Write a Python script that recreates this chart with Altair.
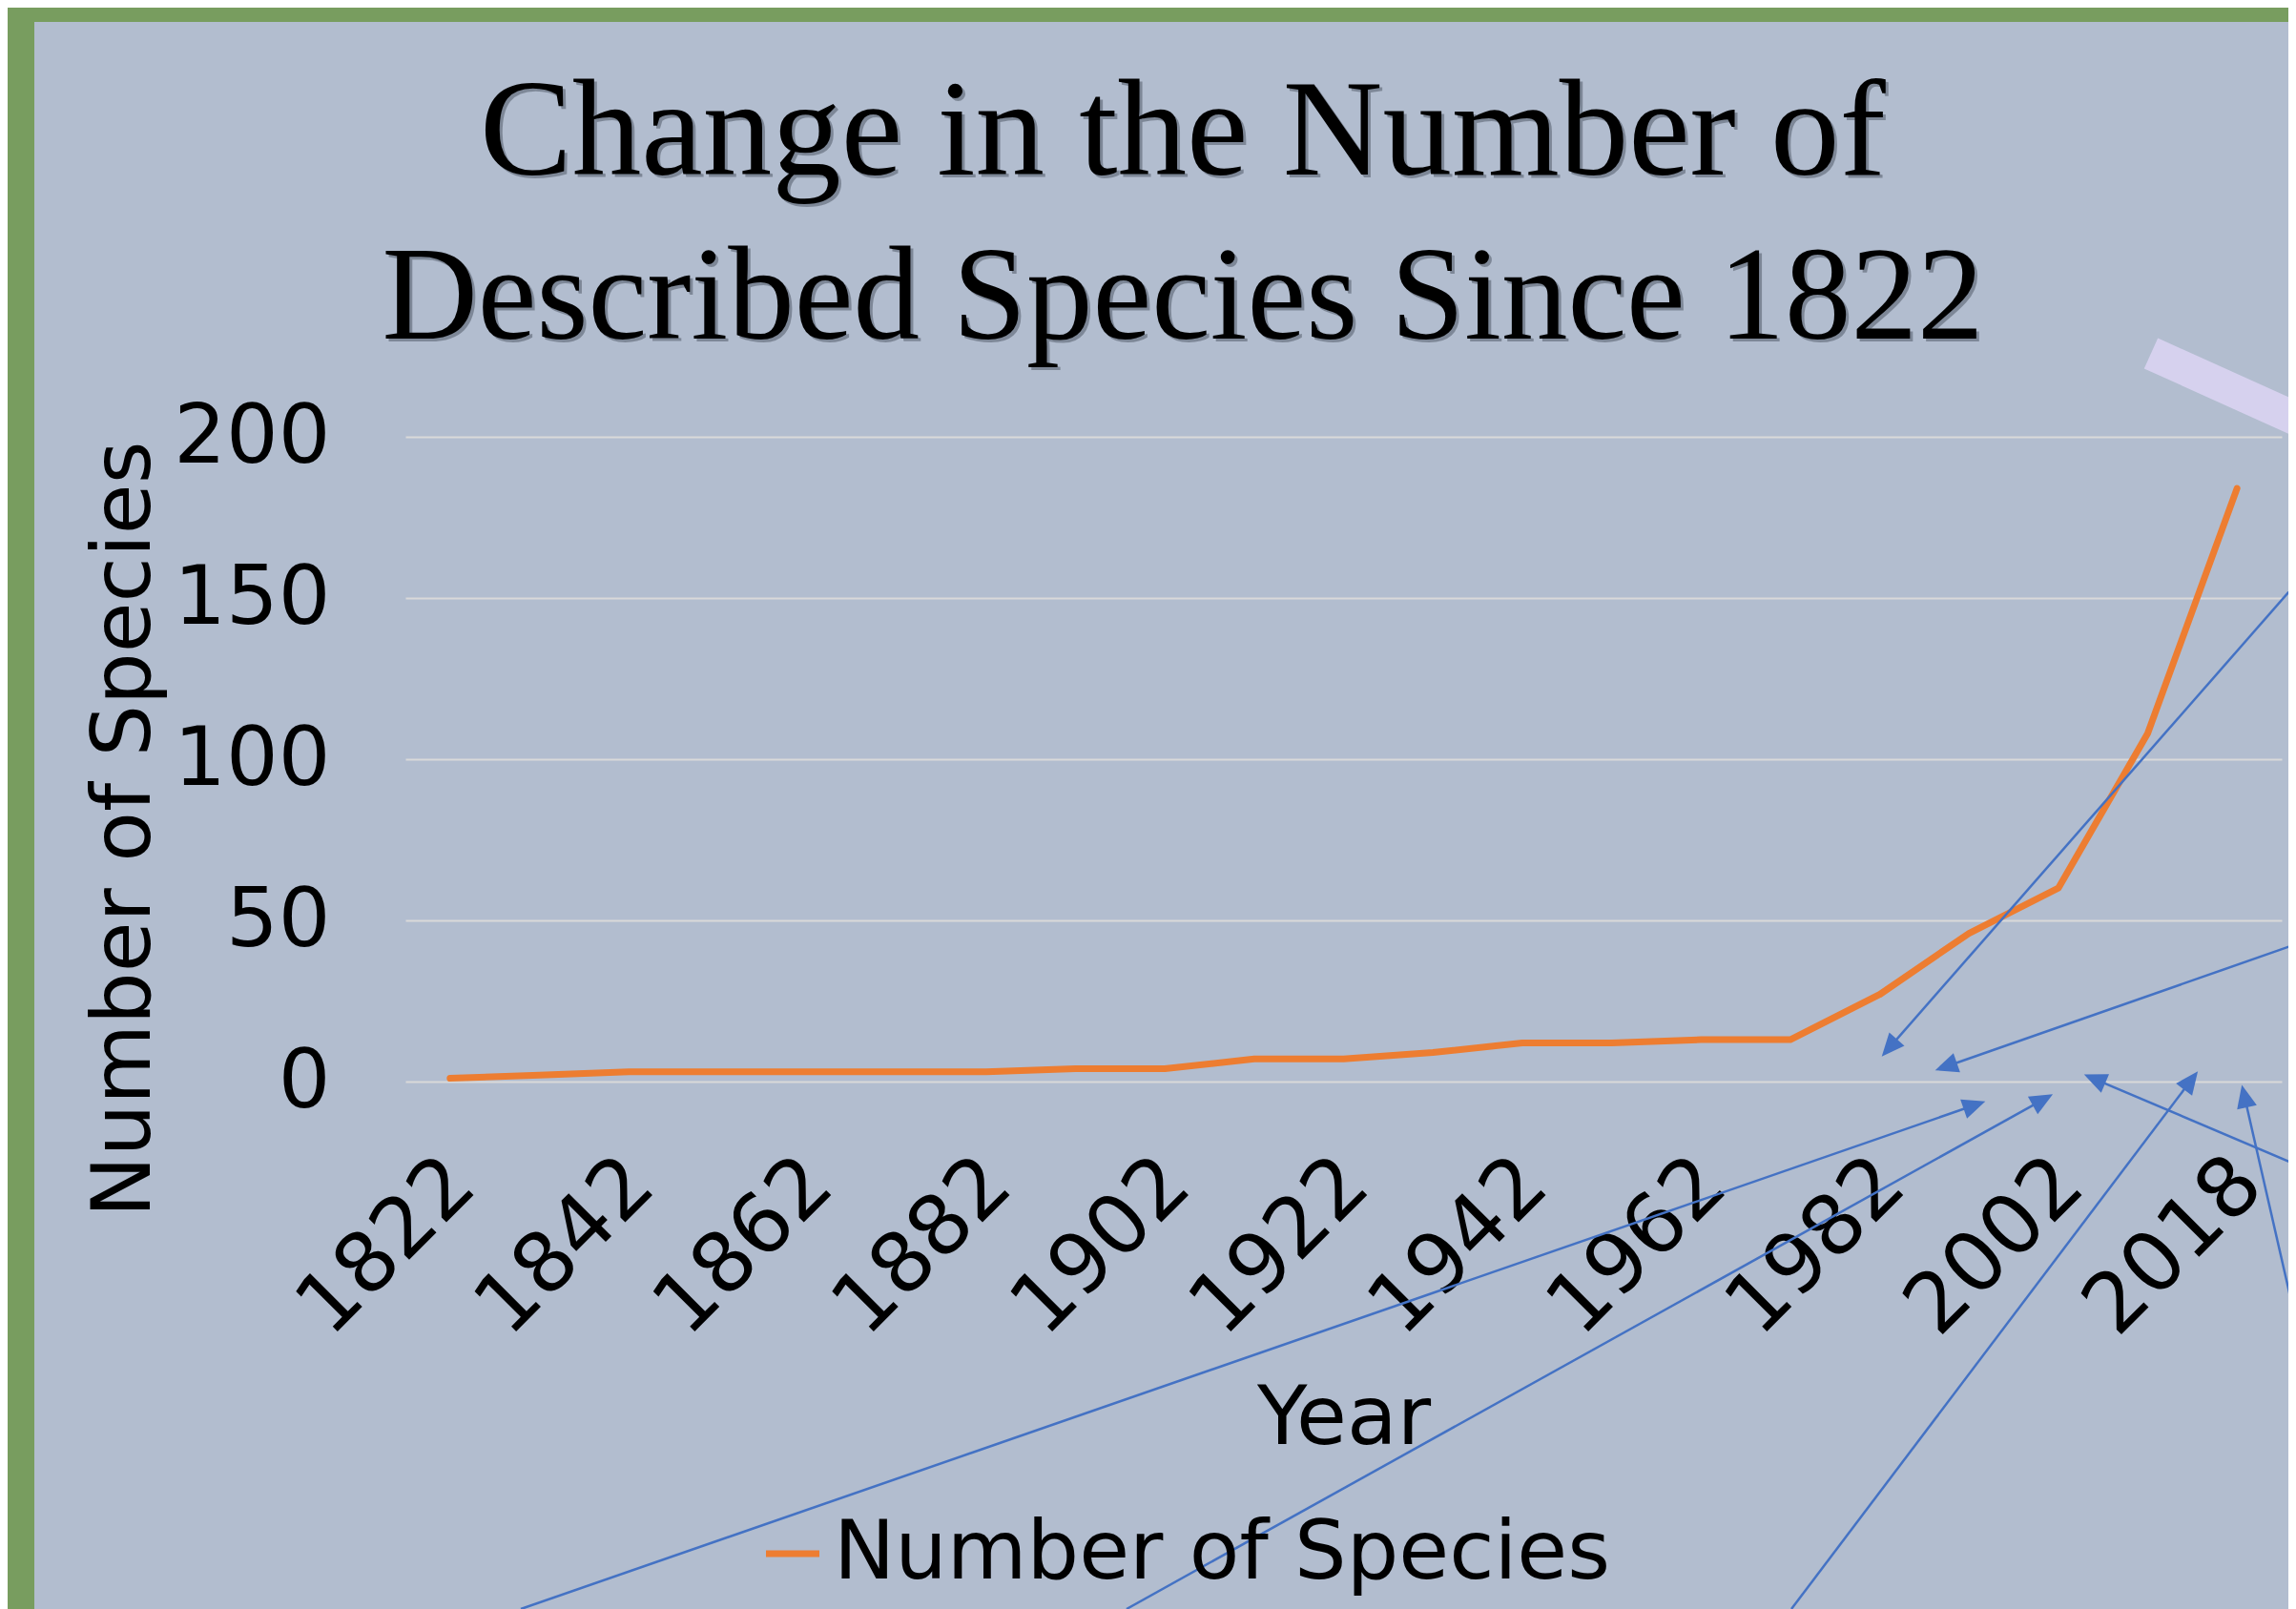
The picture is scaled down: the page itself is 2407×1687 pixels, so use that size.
import math
import altair as alt
import pandas as pd

# ---- data ----
years = ["1822", "1832", "1842", "1852", "1862", "1872", "1882", "1892", "1902", "1912",
         "1922", "1932", "1942", "1952", "1962", "1972", "1982", "1992", "2002", "2012", "2018"]
species = [1, 2, 3, 3, 3, 3, 3, 4, 4, 7, 7, 9, 12, 12, 13, 13, 27, 46, 60, 108, 184]
shown_year_labels = years[0::2]
y_ticks = [0, 50, 100, 150, 200]
series_name = "Number of Species"
title_lines = ["Change in the Number of", "Described Species Since 1822"]

df = pd.DataFrame({"Year": years, "Species": species, "Series": [series_name] * len(years)})

W, H = 1967, 676
PAD = {"left": 417, "top": 450, "right": 7, "bottom": 553}
SANS = "DejaVu Sans"
SERIF = "Liberation Serif"
BG = "#B2BDCF"
GREEN = "#789D5F"
ORANGE = "#ED7D31"
ARROW_BLUE = "#4472C4"
LAVENDER = "#D6D1EE"

line = alt.Chart(df).mark_line(strokeWidth=7, strokeCap="round", strokeJoin="round").encode(
    x=alt.X("Year:O", sort=None, scale=alt.Scale(type="point", padding=0.5),
            axis=alt.Axis(values=shown_year_labels, title="Year", labelAngle=-45,
                          labelAlign="right", labelBaseline="middle", labelPadding=94,
                          labelOffset=12, labelFontSize=87, labelFont=SANS,
                          labelColor="black", labelLimit=2000, labelOverlap=False,
                          ticks=False, domain=False, grid=False, titleFont=SANS,
                          titleFontSize=86, titleFontWeight="normal", titleColor="black",
                          titleX=W / 2, titleY=379, titleBaseline="alphabetic",
                          titleAlign="center")),
    y=alt.Y("Species:Q", scale=alt.Scale(domain=[0, 200], nice=False, zero=True),
            axis=alt.Axis(values=y_ticks, title="Number of Species", grid=True,
                          gridColor="#D9D9D9", gridWidth=2, domain=False, ticks=False,
                          labelFontSize=86, labelFont=SANS, labelColor="black",
                          labelPadding=79, titleFont=SANS, titleFontSize=86,
                          titleFontWeight="normal", titleColor="black", titleAngle=270,
                          titleX=-269, titleY=411, titleBaseline="alphabetic",
                          titleAlign="center")),
    color=alt.Color("Series:N", scale=alt.Scale(range=[ORANGE]),
                    legend=alt.Legend(title=None, orient="none", legendX=363, legendY=1128,
                                      symbolType="stroke", symbolSize=3136,
                                      symbolStrokeWidth=7, labelFontSize=86, labelFont=SANS,
                                      labelColor="black", labelOffset=0, labelLimit=2000,
                                      padding=0)),
)

# chart title as two lines of text, with a soft drop shadow like the slide's
title_layers = []
for txt, base_y, fs in zip(title_lines, [-275, -103], [145, 139]):
    tdf = pd.DataFrame({"t": [txt]})
    shadow = alt.Chart(tdf).mark_text(font=SERIF, fontSize=fs, color="#1E2530", opacity=0.35,
                                      align="center", baseline="alphabetic", dx=3, dy=3).encode(
        text="t:N", x=alt.value(815), y=alt.value(base_y))
    main = alt.Chart(tdf).mark_text(font=SERIF, fontSize=fs, color="black",
                                    align="center", baseline="alphabetic").encode(
        text="t:N", x=alt.value(815), y=alt.value(base_y))
    title_layers += [shadow, main]

# ---- slide decorations (not data): green frame, lavender band, connector arrows ----
one = pd.DataFrame({"k": [0]})
decor = []
decor.append(alt.Chart(one).mark_rect(color=GREEN).encode(
    x=alt.value(-PAD["left"]), x2=alt.value(-PAD["left"] + 28),
    y=alt.value(-PAD["top"]), y2=alt.value(H + PAD["bottom"])))
decor.append(alt.Chart(one).mark_rect(color=GREEN).encode(
    x=alt.value(-PAD["left"]), x2=alt.value(W + PAD["right"]),
    y=alt.value(-PAD["top"]), y2=alt.value(-PAD["top"] + 15)))
decor.append(alt.Chart(one).mark_rule(color=LAVENDER, strokeWidth=35, strokeCap="butt").encode(
    x=alt.value(1830), y=alt.value(-87.5), x2=alt.value(2015), y2=alt.value(-4)))

# arrow (tail, tip) pairs in plot-pixel space
arrows = [((1982, 154), (1550, 647)), ((1982, 532), (1607, 663)),
          ((121, 1229), (1653, 698)), ((756, 1229), (1724, 691)),
          ((1453, 1229), (1877, 668)), ((1982, 763), (1763, 670)),
          ((1982, 928), (1926, 683))]
HEAD_LEN = 17
for (x0, y0), (x1, y1) in arrows:
    d = math.hypot(x1 - x0, y1 - y0)
    ux, uy = (x1 - x0) / d, (y1 - y0) / d
    cx, cy = x1 - ux * HEAD_LEN / 2, y1 - uy * HEAD_LEN / 2
    ang = math.degrees(math.atan2(ux, -uy)) % 360
    decor.append(alt.Chart(one).mark_rule(color=ARROW_BLUE, strokeWidth=2.5).encode(
        x=alt.value(x0), y=alt.value(y0), x2=alt.value(cx), y2=alt.value(cy)))
    decor.append(alt.Chart(one).mark_point(shape="M0,-1L0.88,1L-0.88,1Z", filled=True,
                                           color=ARROW_BLUE, opacity=1,
                                           size=2 * HEAD_LEN ** 2, angle=ang).encode(
        x=alt.value(cx), y=alt.value(cy)))

chart = alt.layer(line, *title_layers, *decor).properties(
    width=W, height=H,
    padding=PAD,
    autosize=alt.AutoSizeParams(type="none"),
    background=BG,
).configure_view(stroke=None)

chart.save("out.html", embed_options={"renderer": "svg", "actions": False})
